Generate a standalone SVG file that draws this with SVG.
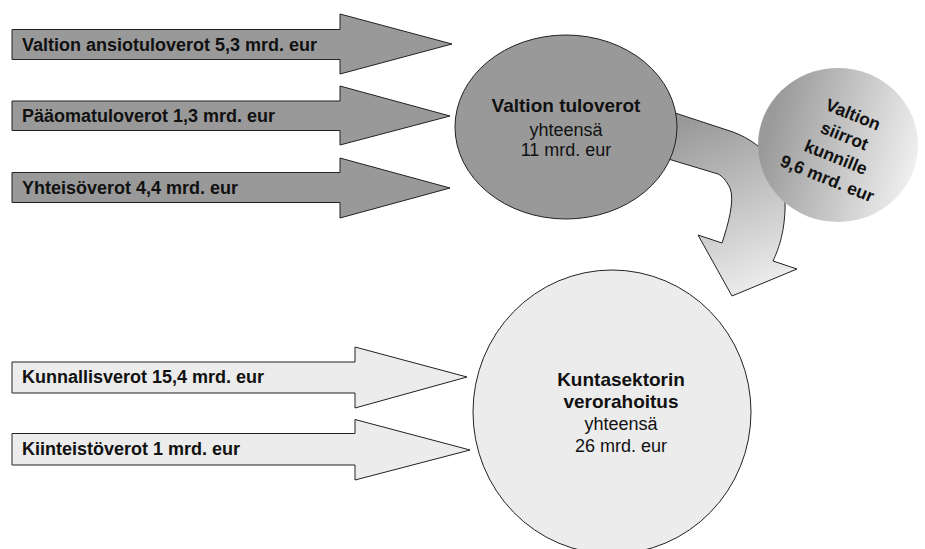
<svg xmlns="http://www.w3.org/2000/svg" width="925" height="549" viewBox="0 0 925 549">
<defs>
<linearGradient id="gCurve" gradientUnits="userSpaceOnUse" x1="690" y1="120" x2="760" y2="295">
<stop offset="0" stop-color="#999999"/>
<stop offset="1" stop-color="#efefef"/>
</linearGradient>
<linearGradient id="gSmall" gradientUnits="userSpaceOnUse" x1="770" y1="125" x2="915" y2="165">
<stop offset="0" stop-color="#9a9a9a"/>
<stop offset="1" stop-color="#efefef"/>
</linearGradient>
<style>
.dark{fill:#999999;stroke:#222;stroke-width:1}
.light{fill:#ececec;stroke:#222;stroke-width:1}
.lbl{font-family:"Liberation Sans",Arial,sans-serif;font-weight:bold;font-size:18px;fill:#111}
.b{font-family:"Liberation Sans",Arial,sans-serif;font-weight:bold;font-size:19px;fill:#111;text-anchor:middle}
.r{font-family:"Liberation Sans",Arial,sans-serif;font-size:18px;fill:#111;text-anchor:middle}
.s{font-family:"Liberation Sans",Arial,sans-serif;font-weight:bold;font-size:17.5px;fill:#111;text-anchor:middle}
</style>
</defs>
<g id="connectors">
<path id="c-transfer" d="M 660,108 L 733,132 C 765,144 787,170 785,210 C 784,235 778,250 773,261 L 797,269 L 732,296 L 698,235 L 722,243 C 728,225 735,200 730,188 C 726,180 722,176 718,174 L 655,155 Z" fill="url(#gCurve)" stroke="#222" stroke-width="1"/>
</g>
<g id="arrow1">
<path class="dark" d="M12,29.5 L340,29.5 L340,14 L452,44 L340,74 L340,59.5 L12,59.5 Z"/>
<text class="lbl" x="22" y="51">Valtion ansiotuloverot 5,3 mrd. eur</text>
</g>
<g id="arrow2">
<path class="dark" d="M12,101 L340,101 L340,86 L450,116 L340,145 L340,130.5 L12,130.5 Z"/>
<text class="lbl" x="22" y="122">Pääomatuloverot 1,3 mrd. eur</text>
</g>
<g id="arrow3">
<path class="dark" d="M12,172.5 L340,172.5 L340,158 L450,188 L340,218 L340,202.5 L12,202.5 Z"/>
<text class="lbl" x="22" y="194">Yhteisöverot 4,4 mrd. eur</text>
</g>
<g id="arrow4">
<path class="light" d="M12,362 L355,362 L355,347 L467,377 L355,408 L355,393 L12,393 Z"/>
<text class="lbl" x="22" y="383">Kunnallisverot 15,4 mrd. eur</text>
</g>
<g id="arrow5">
<path class="light" d="M12,433.5 L355,433.5 L355,419.5 L470,450 L355,480 L355,465 L12,465 Z"/>
<text class="lbl" x="22" y="455">Kiinteistöverot 1 mrd. eur</text>
</g>
<g id="valtion-tuloverot">
<ellipse class="dark" cx="566" cy="127" rx="111" ry="92"/>
<text class="b" x="566" y="112">Valtion tuloverot</text>
<text class="r" x="566" y="136">yhteensä</text>
<text class="r" x="566" y="156">11 mrd. eur</text>
</g>
<g id="valtion-siirrot">
<ellipse cx="838" cy="145" rx="80" ry="77" fill="url(#gSmall)"/>
<g transform="translate(840,147) rotate(22)">
<text class="s" x="0" y="-29">Valtion</text>
<text class="s" x="0" y="-6">siirrot</text>
<text class="s" x="0" y="17">kunnille</text>
<text class="s" x="0" y="40">9,6 mrd. eur</text>
</g>
</g>
<g id="kuntasektori">
<ellipse class="light" cx="612" cy="412" rx="139" ry="142"/>
<text class="b" x="621" y="386">Kuntasektorin</text>
<text class="b" x="621" y="408">verorahoitus</text>
<text class="r" x="621" y="430">yhteensä</text>
<text class="r" x="621" y="452">26 mrd. eur</text>
</g>
</svg>
